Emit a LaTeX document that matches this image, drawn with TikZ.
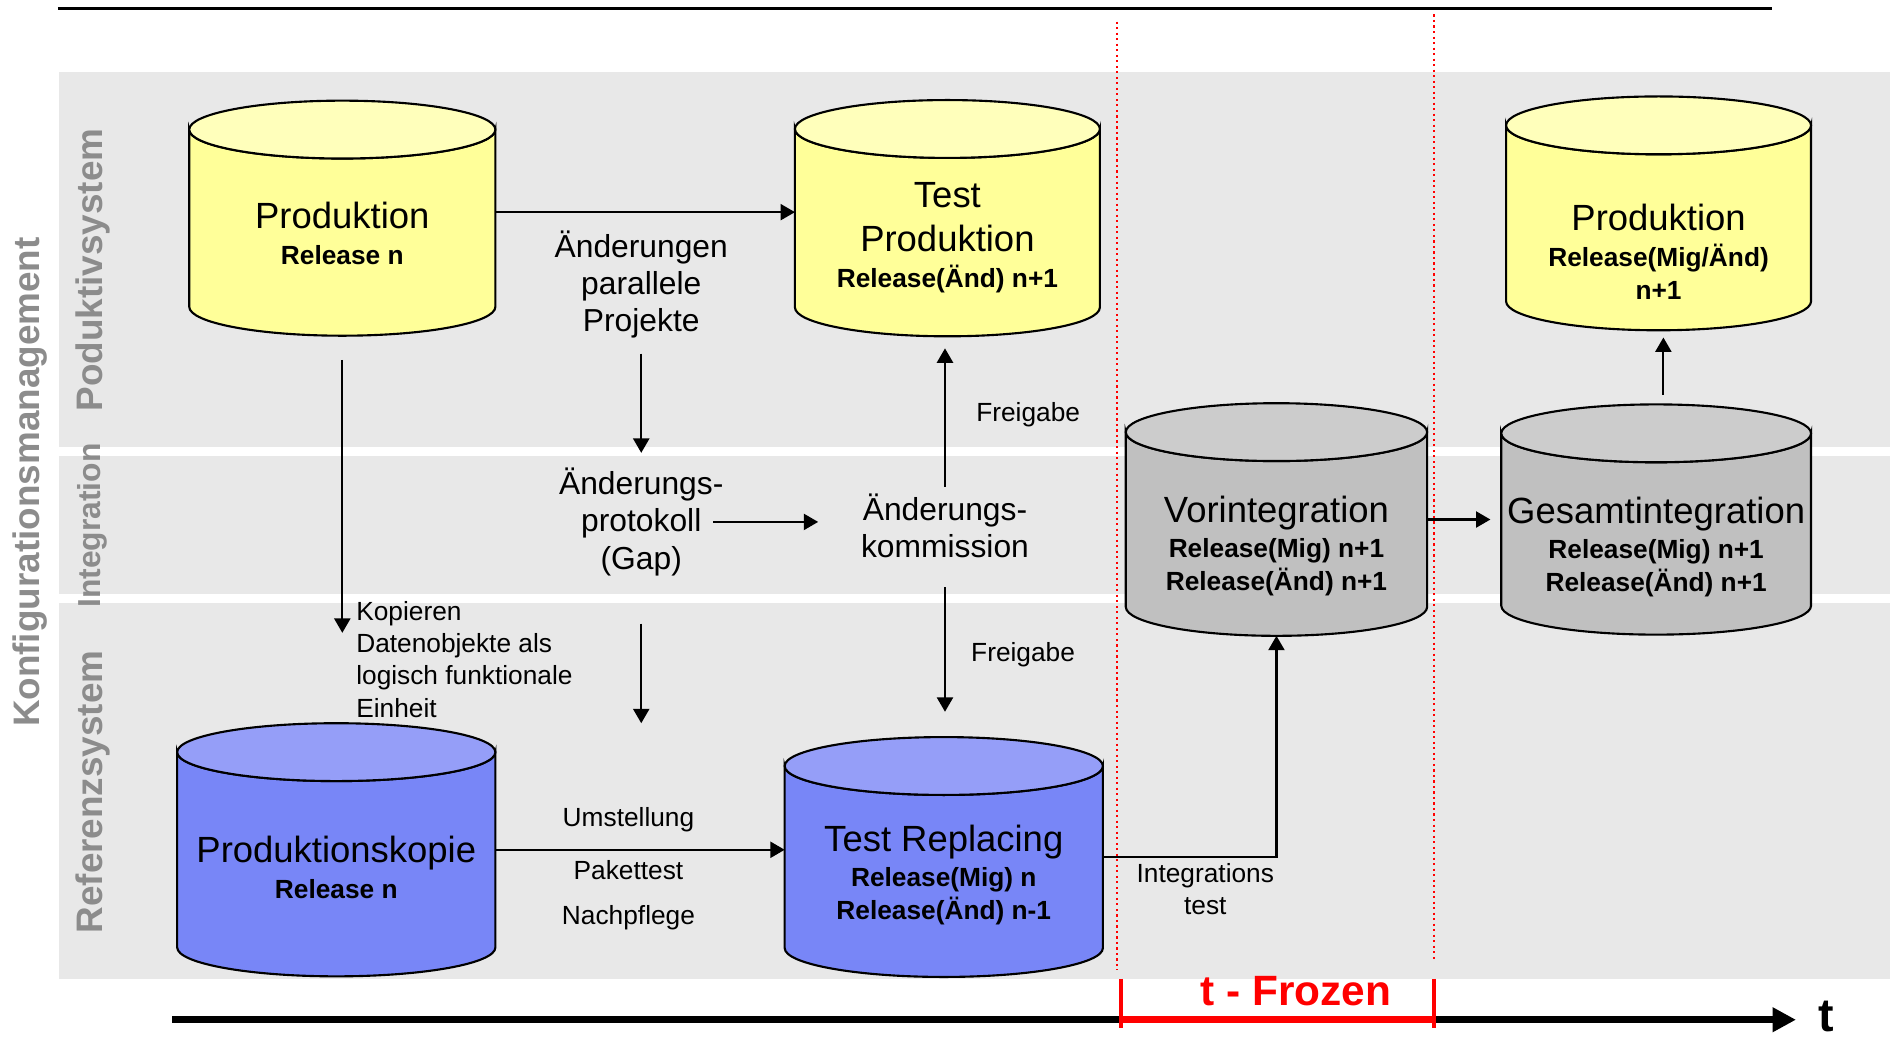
\documentclass[tikz,border=0pt]{standalone}
\usepackage{fontspec}
\setmainfont{Liberation Sans}
\usetikzlibrary{positioning, arrows.meta}

\definecolor{bandGray}{RGB}{232,232,232}
\definecolor{sideGray}{RGB}{140,140,140}
\definecolor{dbYellow}{RGB}{255,255,153}
\definecolor{dbYellowTop}{RGB}{255,255,187}
\definecolor{dbGray}{RGB}{192,192,192}
\definecolor{dbGrayTop}{RGB}{204,204,204}
\definecolor{dbBlue}{RGB}{120,134,247}
\definecolor{dbBlueTop}{RGB}{149,158,248}

\tikzset{
  dbnode/.style={rectangle, inner sep=0pt, outer sep=0pt},
  dbtext/.style={align=center, font=\fontsize{6.2}{7.7}\selectfont\bfseries},
  bigtext/.style={align=center, font=\fontsize{7.5}{8.8}\selectfont},
  smalltext/.style={align=center, font=\fontsize{6.2}{7.6}\selectfont},
  sidetext/.style={rotate=90, text=sideGray, font=\fontsize{8.7}{10}\selectfont\bfseries},
}
\newcommand{\dbtitle}[1]{{\fontsize{8.6}{10.5}\selectfont\mdseries #1}}
% database: name, centre x, centre y, half width, half height, colour
\newcommand{\database}[6]{%
  \filldraw[fill=#6] (#2-#4,#3-#5+24) -- (#2-#4,#3+#5-24)
    arc[start angle=180, end angle=0, x radius=#4, y radius=24]
    -- (#2+#4,#3-#5+24)
    arc[start angle=0, end angle=180, x radius=#4, y radius=24] -- cycle;
  \filldraw[fill=#6Top] (#2,#3-#5+24) ellipse[x radius=#4, y radius=24];
  \node[dbnode, minimum width={2*#4*0.01cm}, minimum height={2*#5*0.01cm}] (#1) at (#2,#3) {};
}

\begin{document}
\begin{tikzpicture}[x=0.01cm, y=-0.01cm, line width=0.5pt,
    >={Triangle[length=3.4pt, width=3.8pt]}]
    \useasboundingbox (0,0) rectangle (1568,860);

    % bands
    \fill[bandGray] (49,60) rectangle (1568,371);
    \fill[bandGray] (49,378) rectangle (1568,493);
    \fill[bandGray] (49,500) rectangle (1568,812);
    \draw[line width=0.8pt] (48,7) -- (1470,7);

    \node[sidetext] (konf) at (25,400) {Konfigurationsmanagement};
    \node[sidetext] (prodSys) at (77,224) {Poduktivsystem};
    \node[sidetext, font=\fontsize{7.5}{9}\selectfont\bfseries] (integ) at (77,436) {Integration};
    \node[sidetext] (refSys) at (77,657) {Referenzsystem};

    % frozen zone
    \draw[red, dash pattern=on 0.5pt off 0.8pt] (927,18) -- (927,805);
    \draw[red, dash pattern=on 0.5pt off 0.8pt] (1190,12) -- (1190,797);

    % databases
    \database{prodA}{284}{181}{127}{97.5}{dbYellow}
    \database{testProd}{786}{181}{126.5}{98}{dbYellow}
    \database{prodB}{1376}{177}{126.5}{97}{dbYellow}
    \database{vorint}{1059}{431}{125}{96.5}{dbGray}
    \database{gesamt}{1374}{431}{128.5}{95.5}{dbGray}
    \database{kopie}{279}{705}{132}{105}{dbBlue}
    \database{testRepl}{783}{711}{132}{99.5}{dbBlue}

    \node[dbtext] (prodA-t) at (284,194) {\dbtitle{Produktion}\\[0.8pt]Release n};
    \node[dbtext] (testProd-t) at (786,197) {\dbtitle{Test}\\[2.8pt]\dbtitle{Produktion}\\[0.8pt]Release(Änd) n+1};
    \node[dbtext] (prodB-t) at (1376,209) {\dbtitle{Produktion}\\[0.8pt]Release(Mig/Änd)\\n+1};
    \node[dbtext] (vorint-t) at (1059,453) {\dbtitle{Vorintegration}\\[0.6pt]Release(Mig) n+1\\Release(Änd) n+1};
    \node[dbtext] (gesamt-t) at (1374,454) {\dbtitle{Gesamtintegration}\\[0.6pt]Release(Mig) n+1\\Release(Änd) n+1};
    \node[dbtext] (kopie-t) at (279,720) {\dbtitle{Produktionskopie}\\[0.8pt]Release n};
    \node[dbtext] (testRepl-t) at (783,726) {\dbtitle{Test Replacing}\\[0.6pt]Release(Mig) n\\Release(Änd) n-1};

    % free texts
    \node[bigtext] (aendP) at (532,236) {Änderungen\\parallele\\Projekte};
    \node[bigtext] (aprot) at (532,433) {Änderungs-\\protokoll\\(Gap)};
    \node[bigtext] (akomm) at (784,436) {Änderungs-\\kommission};
    \node[smalltext, align=left, anchor=west] (kopText) at (283,547) {Kopieren\\Datenobjekte als\\logisch funktionale\\Einheit};

    \coordinate (kopEnd) at (284,525);
    \coordinate (gapEnd) at (532,600);

    % connectors
    \draw[->] ([yshift=0.05cm]prodA.east) -- ([yshift=0.05cm]prodA.east -| testProd.west);
    \draw[->] ([yshift=-0.2cm]prodA.south) -- (kopEnd);
    \draw[->] (aendP.south) -- (aprot.north);
    \draw[->] ([xshift=-0.21cm]aprot.east) -- ([xshift=-0.23cm]aprot.east -| akomm.west);
    \draw[->, shorten <=0.27cm] (aprot.south) -- (gapEnd);
    \draw[->, shorten <=-0.07cm, shorten >=0.1cm] (akomm.north) -- (akomm.north |- testProd.south)
        node[smalltext, pos=0.45, right=3.8pt] (frgA) {Freigabe};
    \draw[->, shorten <=0.12cm, shorten >=0.21cm] (akomm.south) -- (akomm.south |- testRepl.north)
        node[smalltext, midway, right=2.6pt] (frgB) {Freigabe};
    \draw[->] (kopie.east) -- node[smalltext, above=0.6pt, pos=0.46] (umst) {Umstellung}
        node[smalltext, below=-1pt, pos=0.46] (paket) {Pakettest\\[3pt]Nachpflege} (kopie.east -| testRepl.west);
    \draw[->] (testRepl.east) -| node[smalltext, below=-2pt, pos=0.295] (intTest) {Integrations\\test} (vorint.south);
    \draw[->, shorten >=0.09cm] (vorint.east) -- (vorint.east -| gesamt.west);
    \draw[->, shorten <=0.08cm, shorten >=0.06cm] ([xshift=0.06cm]gesamt.north) -- ([xshift=0.06cm]gesamt.north |- prodB.south);

    % time axis
    \draw[line width=1.6pt, -{Triangle[length=5.5pt, width=5.5pt]}] (143,846) -- (1490,846);
    \draw[red, line width=1.6pt] (930,846) -- (1190,846);
    \draw[red, line width=1pt] (930,812) -- (930,853);
    \draw[red, line width=1pt] (1190,812) -- (1190,853);
    \node[text=red, font=\fontsize{10}{12}\selectfont\bfseries] (frozen) at (1075,822) {t - Frozen};
    \node[font=\fontsize{11}{13}\selectfont\bfseries] (tLbl) at (1515,843) {t};
\end{tikzpicture}
\end{document}
